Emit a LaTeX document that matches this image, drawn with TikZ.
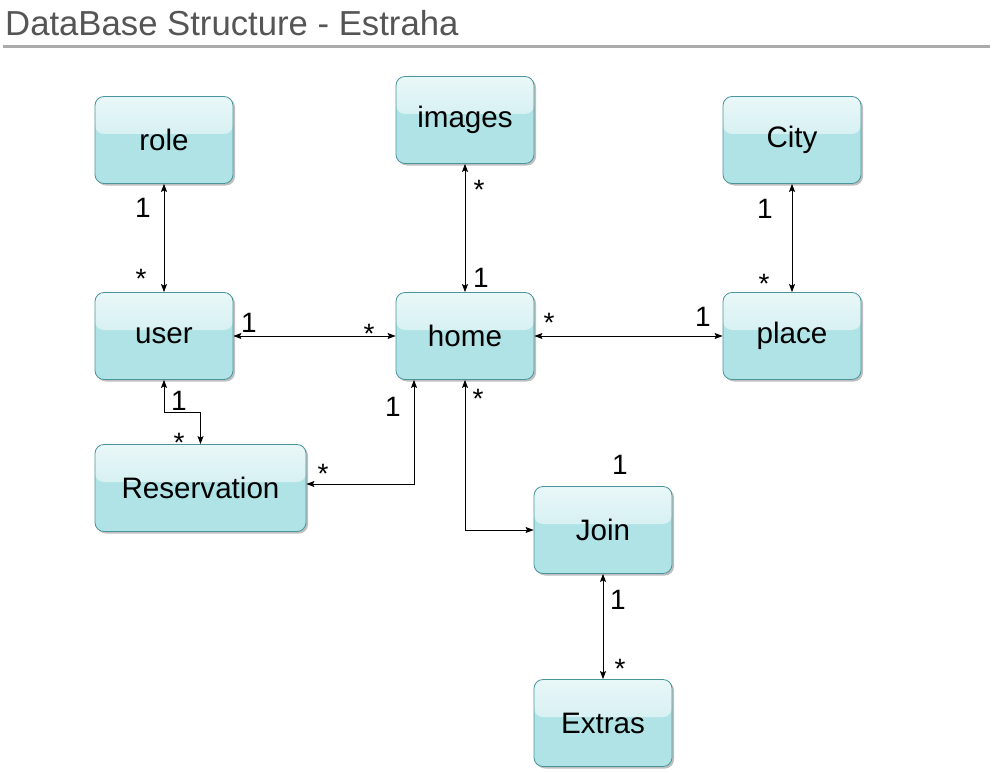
\documentclass[tikz,border=0pt]{standalone}
\usepackage{fontspec}
\setmainfont{Liberation Sans}
\usepackage{tikz}
\usetikzlibrary{arrows.meta,shadows,calc}
\definecolor{boxfill}{HTML}{B0E3E6}
\definecolor{boxtop}{HTML}{E9F7F8}
\definecolor{boxline}{HTML}{4A959B}
\definecolor{titlegray}{HTML}{555555}
\definecolor{rulegray}{HTML}{AAAAAA}
\tikzstyle{entity} = [draw=boxline, line width=0.8pt, fill=boxfill, rounded corners=9pt,
  minimum width=138pt, minimum height=87pt, inner sep=0pt,
  font=\fontsize{29.6}{30}\selectfont,
  drop shadow={shadow xshift=2pt, shadow yshift=-2pt, opacity=0.25, fill=black},
  path picture={\shade[top color=boxtop, bottom color=boxfill!80!white]
    (path picture bounding box.north west) rectangle ([yshift=6pt]path picture bounding box.east);}]
\tikzstyle{link} = [draw, line width=0.9pt, {Stealth[length=8pt,width=6pt,inset=1.5pt]}-{Stealth[length=8pt,width=6pt,inset=1.5pt]}]
\tikzstyle{mult} = [inner sep=0pt, font=\fontsize{28}{28}\selectfont]
\tikzstyle{many} = [mult, yshift=-6pt]

\begin{document}
\begin{tikzpicture}[x=1pt,y=-1pt]
    \useasboundingbox (0,0) rectangle (993,773);
    \node[anchor=base west, inner sep=0pt, text=titlegray, font=\fontsize{34.7}{35}\selectfont] (title) at (5,35.5) {DataBase Structure - Estraha};
    \draw[rulegray, line width=3pt] (3,46.5) -- (990,46.5);
    % tables
    \node[entity] (role) at (164,140) {role};
    \node[entity] (images) at (465,120) {images};
    \node[entity] (City) at (792,140) {City};
    \node[entity] (user) at (164,336) {user};
    \node[entity] (home) at (465,336) {home};
    \node[entity] (place) at (792,336) {place};
    \node[entity, minimum width=211pt] (Reservation) at (200.5,488) {Reservation};
    \node[entity] (Join) at (603,530) {Join};
    \node[entity] (Extras) at (603,723) {Extras};
    % relations
    \draw[link] (role) -- (user);
    \draw[link] (images) -- (home);
    \draw[link] (City) -- (place);
    \draw[link] (user) -- (home);
    \draw[link] (home) -- (place);
    \draw[link] (user.south) -- ++(0,33) -| (Reservation.north);
    \draw[link] ([xshift=-51pt]home.south) |- ([yshift=4pt]Reservation.east);
    \draw[link] (home.south) |- (Join.west);
    \draw[link] (Join) -- (Extras);
    % multiplicities
    \node[mult] (m1) at (143,208) {1};
    \node[many] (m2) at (141,273) {*};
    \node[many] (m3) at (479,184) {*};
    \node[mult] (m4) at (481,278) {1};
    \node[mult] (m5) at (765,209) {1};
    \node[many] (m6) at (764,278) {*};
    \node[mult] (m7) at (249,323) {1};
    \node[many] (m8) at (369,328) {*};
    \node[many] (m9) at (549,317) {*};
    \node[mult] (m10) at (703,317) {1};
    \node[mult] (m11) at (179,401) {1};
    \node[many] (m12) at (179,437) {*};
    \node[mult] (m13) at (393,407) {1};
    \node[many] (m14) at (323,468) {*};
    \node[many] (m15) at (478,393) {*};
    \node[mult] (m16) at (620,465) {1};
    \node[mult] (m17) at (618,600) {1};
    \node[many] (m18) at (620,663) {*};
  \end{tikzpicture}
\end{document}
